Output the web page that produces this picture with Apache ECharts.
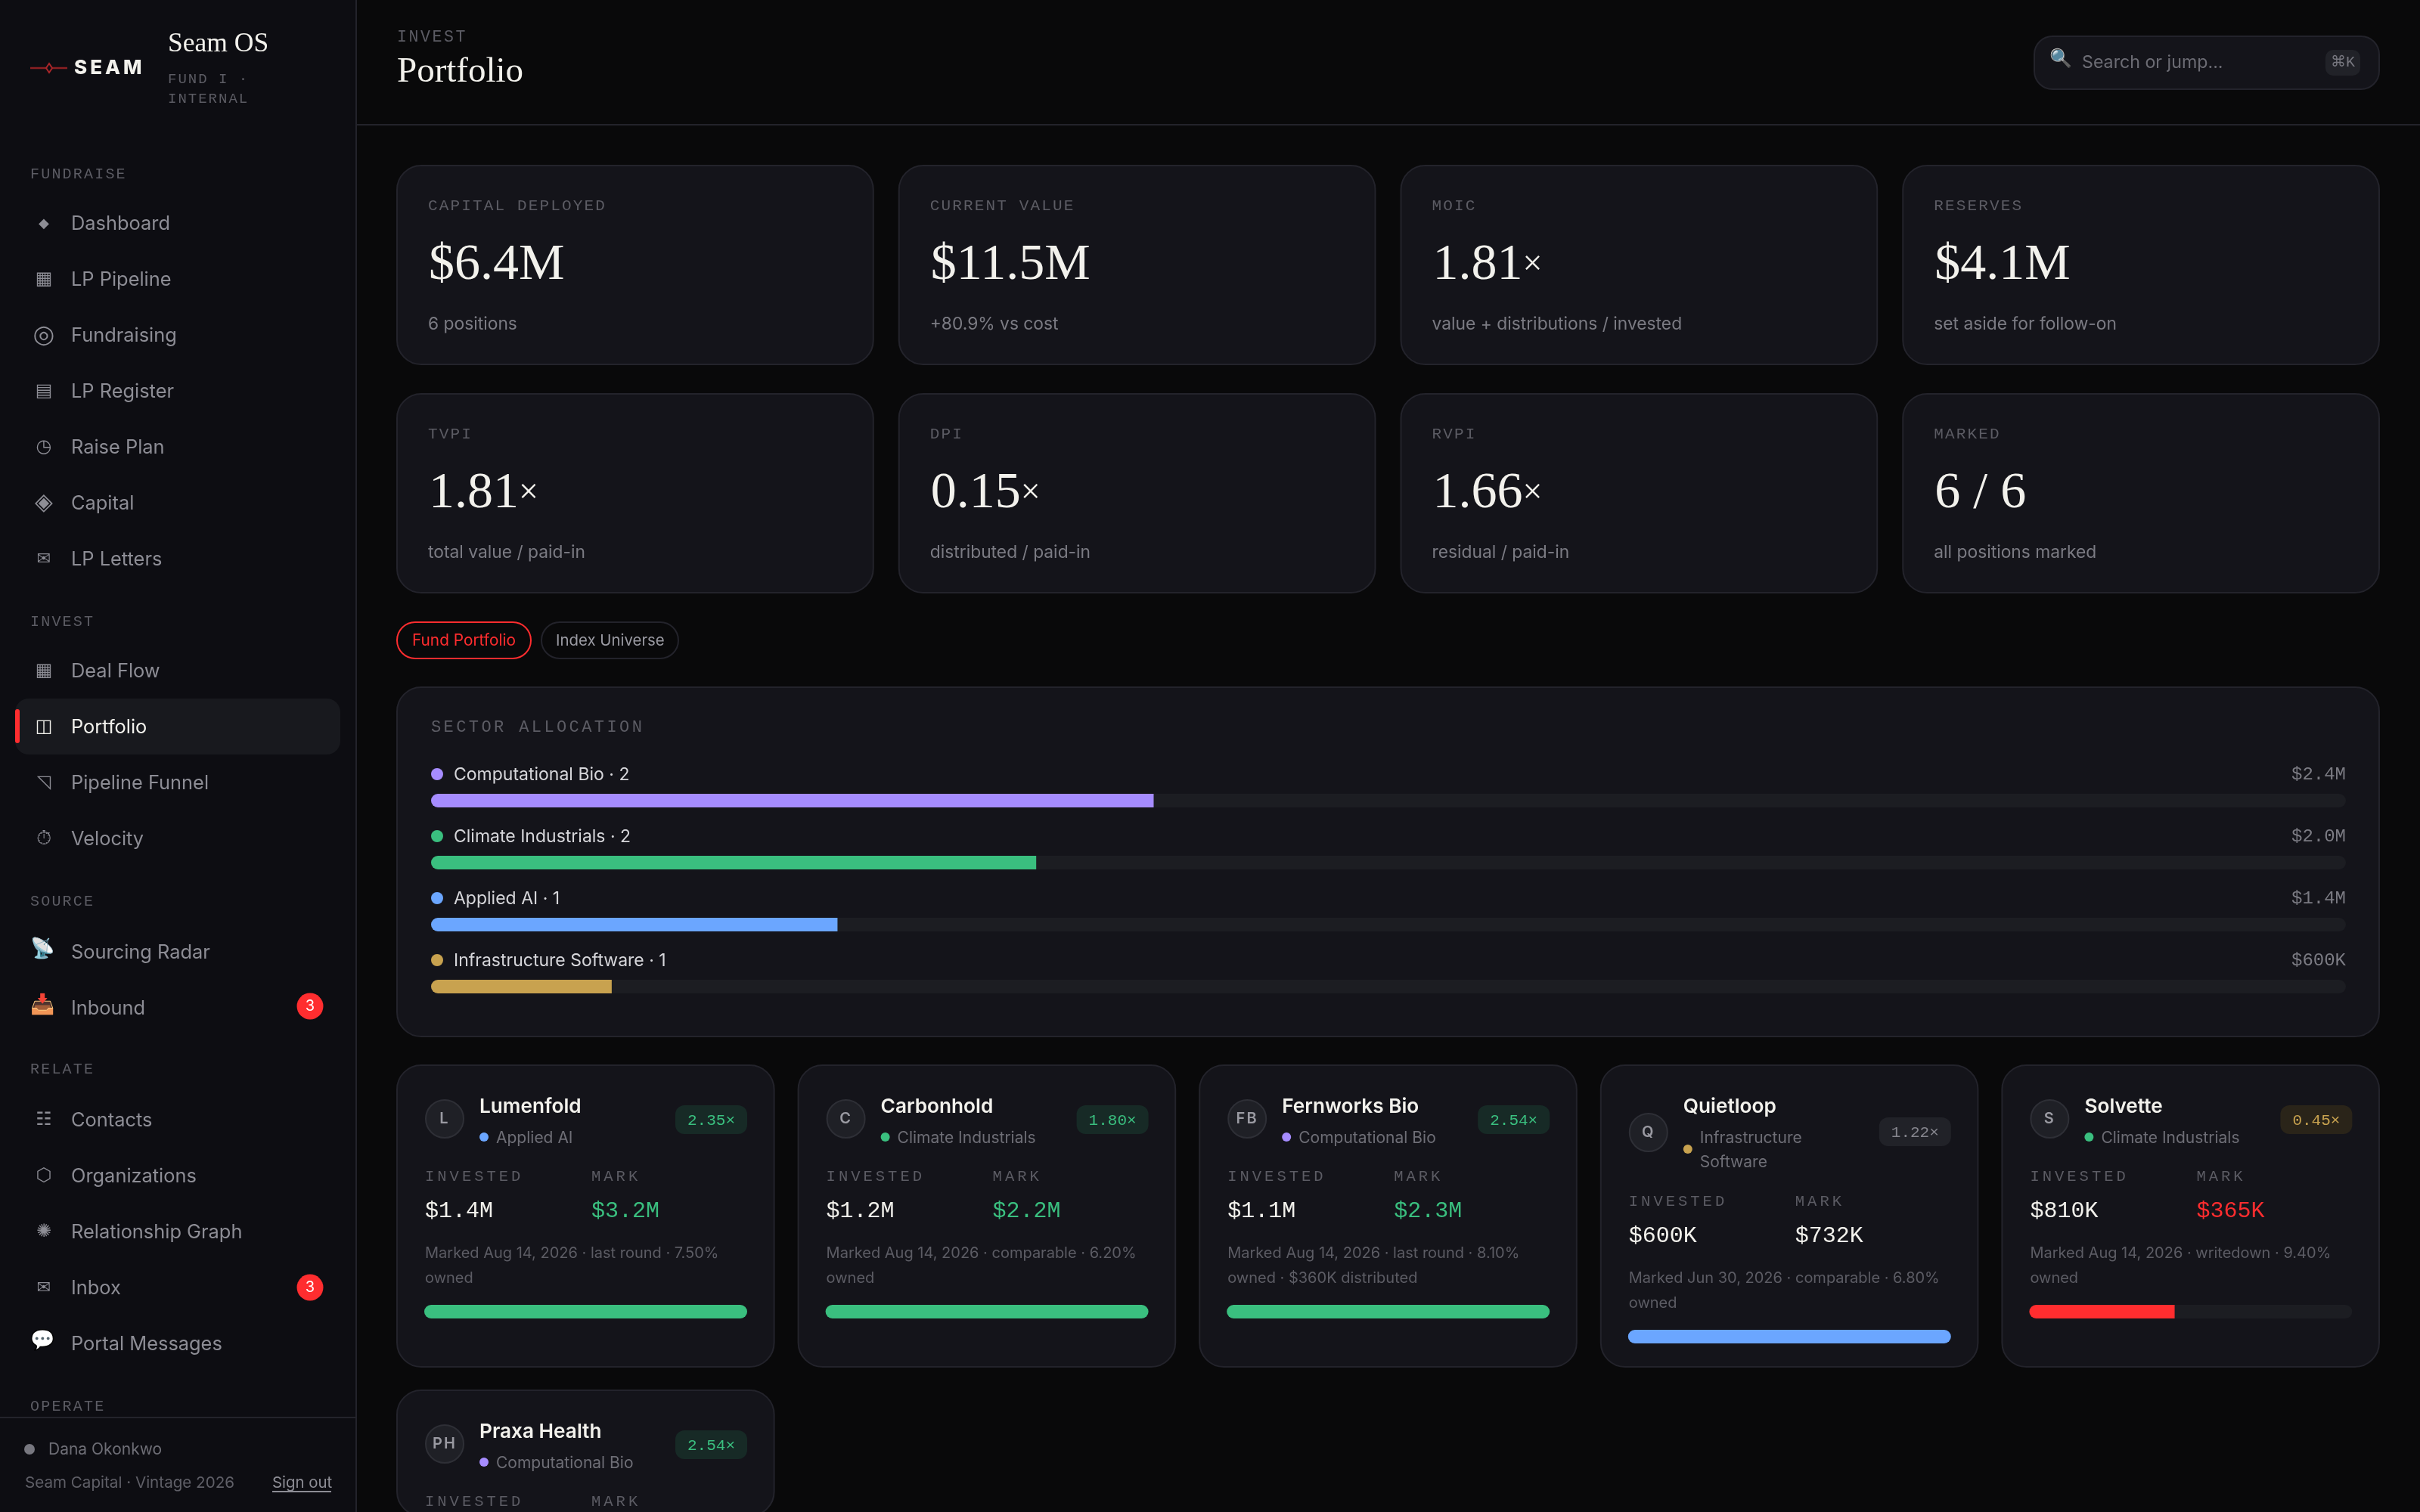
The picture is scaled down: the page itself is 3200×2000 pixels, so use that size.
<!DOCTYPE html>
<html>
<head>
<meta charset="utf-8">
<title>Seam OS - Portfolio</title>
<style>
    html, body { margin: 0; padding: 0; background: #09090a; }
    #chart { width: 3200px; height: 2000px; }
</style>
<script src="https://cdn.jsdelivr.net/npm/echarts@6/dist/echarts.min.js"></script>
</head>
<body>
<div id="chart"></div>
<script>
// sidebar content
var navSections = ['FUNDRAISE', 'INVEST', 'SOURCE', 'RELATE', 'OPERATE'];
var navFundraise = ['Dashboard', 'LP Pipeline', 'Fundraising', 'LP Register', 'Raise Plan', 'Capital', 'LP Letters'];
var navFundraiseIcons = ['◆', '▦', '◎', '▤', '◷', '◈', '✉'];
var navInvest = ['Deal Flow', 'Portfolio', 'Pipeline Funnel', 'Velocity'];
var navInvestIcons = ['▦', '◫', '◹', '⏱'];
var navSource = ['Sourcing Radar', 'Inbound'];
var navSourceIcons = ['📡', '📥'];
var navRelate = ['Contacts', 'Organizations', 'Relationship Graph', 'Inbox', 'Portal Messages'];
var navRelateIcons = ['☷', '⬡', '✺', '✉', '💬'];

// KPI tiles
var kpiLabels = ['CAPITAL DEPLOYED', 'CURRENT VALUE', 'MOIC', 'RESERVES', 'TVPI', 'DPI', 'RVPI', 'MARKED'];
var kpiValues = ['$6.4M', '$11.5M', '1.81×', '$4.1M', '1.81×', '0.15×', '1.66×', '6 / 6'];
var kpiNotes = ['6 positions', '+80.9% vs cost', 'value + distributions / invested', 'set aside for follow-on',
    'total value / paid-in', 'distributed / paid-in', 'residual / paid-in', 'all positions marked'];

// sector allocation, $M invested
var sectorNames = ['Computational Bio', 'Climate Industrials', 'Applied AI', 'Infrastructure Software'];
var sectorCounts = [2, 2, 1, 1];
var sectorValues = [2.4, 2.01, 1.35, 0.6];
var sectorLabels = ['$2.4M', '$2.0M', '$1.4M', '$600K'];

// positions
var companyNames = ['Lumenfold', 'Carbonhold', 'Fernworks Bio', 'Quietloop', 'Solvette', 'Praxa Health'];
var companyInitials = ['L', 'C', 'FB', 'Q', 'S', 'PH'];
var companySectors = [2, 1, 0, 3, 1, 0];
var companyInvested = ['$1.4M', '$1.2M', '$1.1M', '$600K', '$810K', '$1.3M'];
var companyMarks = ['$3.2M', '$2.2M', '$2.3M', '$732K', '$365K', '$3.3M'];
var companyMoic = [2.35, 1.80, 2.54, 1.22, 0.45, 2.54];
var companyNotes = [
    ['Marked Aug 14, 2026 · last round · 7.50%', 'owned'],
    ['Marked Aug 14, 2026 · comparable · 6.20%', 'owned'],
    ['Marked Aug 14, 2026 · last round · 8.10%', 'owned · $360K distributed'],
    ['Marked Jun 30, 2026 · comparable · 6.80%', 'owned'],
    ['Marked Aug 14, 2026 · writedown · 9.40%', 'owned'],
    ['Marked Aug 14, 2026 · last round · 8.10%', 'owned']
];

var SANS = 'Inter';
var SERIF = '"Liberation Serif"';
var MONO = '"Liberation Mono"';
var C = {
    page: '#09090a', side: '#0d0d12', card: '#14141a', line: '#23232b', track: '#1c1d22',
    ink: '#f2f1ec', body: '#d6d6da', nav: '#8d8d95', dim: '#7b7b83', faint: '#5c5c64',
    red: '#ff2d2f', green: '#3abf7f', blue: '#6ba6ff', purple: '#a68cff', gold: '#c8a24f'
};
var sectorColors = [C.purple, C.green, C.blue, C.gold];

// these glyphs come out at different sizes in the fallback fonts
var iconSizes = { '◆': 18, '◎': 33, '◈': 31, '⏱': 26, '✉': 22, '📡': 26, '📥': 26, '💬': 26 };

// zrender has no letter spacing, so it goes on the context per label size
var tracking = { 19: 2, 20: 2.2, 21: 2.15, 21.5: 2.6, 22: 3.4, 20.5: 4, 26: 4 };
var rawFillText = CanvasRenderingContext2D.prototype.fillText;
CanvasRenderingContext2D.prototype.fillText = function (text, x, y) {
    var upper = /^[A-Z ·]+$/.test(text);
    var size = parseFloat((/([\d.]+)px/.exec(this.font) || [])[1]);
    this.letterSpacing = (upper && tracking[size] || 0) + 'px';
    rawFillText.call(this, text, x, y);
    this.letterSpacing = '0px';
};

var elements = [];

function box(x, y, w, h, r, fill, stroke) {
    elements.push({
        type: 'rect',
        shape: { x: x, y: y, width: w, height: h, r: r },
        style: { fill: fill, stroke: stroke || null, lineWidth: stroke ? 2 : 0 }
    });
}

function dot(x, y, r, fill, stroke) {
    elements.push({
        type: 'circle',
        shape: { cx: x, cy: y, r: r },
        style: { fill: fill, stroke: stroke || null, lineWidth: stroke ? 2 : 0 }
    });
}

function rule(x1, y1, x2, y2, color, width) {
    elements.push({
        type: 'line',
        shape: { x1: x1, y1: y1, x2: x2, y2: y2 },
        style: { stroke: color, lineWidth: width || 2 }
    });
}

function label(x, y, text, size, family, fill, more) {
    var style = { text: text, x: x, y: y, fontSize: size, fontFamily: family, fill: fill, verticalAlign: 'middle' };
    for (var key in more) {
        style[key] = more[key];
    }
    elements.push({ type: 'text', style: style });
}

function drawSidebar() {
    box(0, 0, 470, 2000, 0, C.side);
    rule(471, 0, 471, 2000, C.line);

    // logo
    rule(40, 90, 89, 90, '#8a1f22', 2.5);
    elements.push({
        type: 'polygon',
        shape: { points: [[65, 84], [69, 90], [65, 96], [61, 90]] },
        style: { fill: C.side, stroke: '#a8262a', lineWidth: 2 }
    });
    label(98, 90, 'SEAM', 26, SANS, C.ink, { fontWeight: 800 });
    label(222, 59, 'Seam OS', 35.5, SERIF, C.ink);
    label(222, 105, 'FUND I ·', 19, MONO, C.faint);
    label(222, 131, 'INTERNAL', 19, MONO, C.faint);

    var groups = [
        { title: navSections[0], y: 231, first: 296, items: navFundraise, icons: navFundraiseIcons },
        { title: navSections[1], y: 823, first: 888, items: navInvest, icons: navInvestIcons },
        { title: navSections[2], y: 1193, first: 1260, items: navSource, icons: navSourceIcons },
        { title: navSections[3], y: 1415, first: 1482, items: navRelate, icons: navRelateIcons }
    ];

    // active row
    box(20, 924, 430, 74, 18, '#18191e');
    box(20, 938, 6, 45, 3, C.red);

    groups.forEach(function (group) {
        label(40, group.y, group.title, 20, MONO, C.faint);
        group.items.forEach(function (item, i) {
            var y = group.first + i * 74;
            var active = item === 'Portfolio';
            var icon = group.icons[i];
            var lift = icon.length > 1 ? 4 : 0;
            label(58 - lift / 2, y - lift, icon, iconSizes[icon] || 24, '"DejaVu Sans"', active ? C.ink : C.nav, { align: 'center' });
            label(94, y, item, 25.4, SANS, active ? C.ink : C.nav);
        });
    });

    [1331, 1703].forEach(function (y) {
        dot(410, y, 17.5, C.red);
        label(410, y, '3', 20, SANS, '#ffffff', { align: 'center' });
    });

    // footer
    label(40, 1861, navSections[4], 20, MONO, C.faint);
    box(0, 1875, 470, 125, 0, C.side);
    rule(0, 1875, 470, 1875, C.line);
    dot(39, 1917, 7, '#77777f');
    label(64, 1918, 'Dana Okonkwo', 21, SANS, '#6e6e76');
    label(33, 1962, 'Seam Capital · Vintage 2026', 20.6, SANS, '#5f5f67');
    label(360, 1962, 'Sign out', 20.4, SANS, C.nav);
    rule(360, 1973, 438, 1973, C.nav);
}

function drawHeader() {
    rule(472, 165, 3200, 165, C.line);
    label(525, 49, 'INVEST', 21.5, MONO, C.faint);
    label(525, 96, 'Portfolio', 47, SERIF, C.ink);

    box(2690, 48, 456, 70, 24, C.card, C.line);
    label(2725, 79, '🔍', 24, '"DejaVu Sans"', C.nav, { align: 'center' });
    label(2753, 83, 'Search or jump...', 23.2, SANS, '#6c6c74');
    box(3075, 66, 46, 34, 10, '#212228');
    label(3098, 83, '⌘K', 20, MONO, '#77777f', { align: 'center' });
}

function drawKpis() {
    kpiLabels.forEach(function (name, i) {
        var x = 524 + (i % 4) * 663.75;
        var y = 218 + Math.floor(i / 4) * 302;
        box(x + 1, y + 1, 629.75, 263, 32, C.card, C.line);
        label(x + 42, y + 54, name, 21, MONO, C.faint);

        var value = kpiValues[i];
        if (value.slice(-1) === '×') {
            label(x + 43, y + 133, '{v|' + value.slice(0, -1) + '}{x|×}', 68, SERIF, C.ink, {
                rich: {
                    v: { fontSize: 68, fontFamily: SERIF, fill: C.ink },
                    x: { fontSize: 46, fontFamily: SERIF, fill: C.ink }
                }
            });
        }
        else {
            label(x + 43, y + 133, value, 68, SERIF, C.ink);
        }
        label(x + 42, y + 211, kpiNotes[i], 22.8, SANS, C.dim);
    });
}

function drawPanel() {
    box(525, 823, 177, 48, 24, 'transparent', C.red);
    label(545, 848, 'Fund Portfolio', 20.8, SANS, C.red);
    box(716, 823, 181, 48, 24, 'transparent', C.line);
    label(735, 848, 'Index Universe', 20.4, SANS, '#9a9aa2');

    box(525, 909, 2621, 462, 32, C.card, C.line);
    label(570, 962, 'SECTOR ALLOCATION', 22, MONO, C.faint);

    sectorNames.forEach(function (name, i) {
        var y = 1024 + i * 82;
        dot(578, y, 8, sectorColors[i]);
        label(600, y + 1, name + ' · ' + sectorCounts[i], 23, SANS, C.body);
        label(3102, y + 1, sectorLabels[i], 24, MONO, C.dim, { align: 'right' });
    });
}

function moicTier(moic) {
    if (moic >= 1.5) {
        return { bar: C.green, mark: C.green, pill: '#172a26', pillText: C.green };
    }
    if (moic >= 1) {
        return { bar: C.blue, mark: C.ink, pill: '#212228', pillText: '#85858d' };
    }
    return { bar: C.red, mark: C.red, pill: '#2a2419', pillText: C.gold };
}

// returns the top of the progress bar so the series can sit on it
function drawCompany(i) {
    var x = 524 + (i % 5) * 530.6;
    var y = 1408 + Math.floor(i / 5) * 430;
    var tier = moicTier(companyMoic[i]);
    var sectorName = sectorNames[companySectors[i]];
    var wrapped = sectorName === 'Infrastructure Software';
    var shift = wrapped ? 33 : 0;
    var right = x + 464;
    var avatarY = y + 72 + (wrapped ? 18 : 0);

    box(x + 1, y + 1, 498.6, Math.min(399, 2004 - y), 32, C.card, C.line);

    dot(x + 64, avatarY, 25, '#1f2026', '#2e2f36');
    label(x + 64, avatarY, companyInitials[i], 20, SANS, '#9a9aa2', { align: 'center', fontWeight: 600 });

    label(x + 110, y + 56, companyNames[i], 26.2, SANS, C.ink, { fontWeight: 600 });
    if (wrapped) {
        dot(x + 116, y + 112, 6, sectorColors[companySectors[i]]);
        label(x + 132, y + 98, 'Infrastructure', 21, SANS, '#6e6e76');
        label(x + 132, y + 130, 'Software', 21, SANS, '#6e6e76');
    }
    else {
        dot(x + 116, y + 96, 6, sectorColors[companySectors[i]]);
        label(x + 132, y + 98, sectorName, 21, SANS, '#6e6e76');
    }

    var pillY = y + 54 + (wrapped ? 16 : 0);
    box(right - 95, pillY, 95, 38, 12, tier.pill);
    label(right - 47.5, pillY + 20, companyMoic[i].toFixed(2) + '×', 21, MONO, tier.pillText, { align: 'center' });

    label(x + 38, y + 149 + shift, 'INVESTED', 20.5, MONO, C.faint);
    label(x + 258, y + 149 + shift, 'MARK', 20.5, MONO, C.faint);

    if (y + 192 + shift < 2000) {
        label(x + 38, y + 194 + shift, companyInvested[i], 30, MONO, C.ink);
        label(x + 258, y + 194 + shift, companyMarks[i], 30, MONO, tier.mark);
        label(x + 38, y + 250 + shift, companyNotes[i][0], 20, SANS, C.faint);
        label(x + 38, y + 283 + shift, companyNotes[i][1], 20, SANS, C.faint);
    }
    return { left: x + 37, top: y + 318 + shift };
}

drawSidebar();
drawHeader();
drawKpis();
drawPanel();

// sector bars share one grid, one band per sector
var grids = [{ left: 570, top: 1018, width: 2532, height: 328 }];
var xAxes = [{ type: 'value', gridIndex: 0, min: 0, max: 6.36, show: false }];
var yAxes = [{ type: 'category', gridIndex: 0, inverse: true, data: sectorNames, show: false }];
var series = [{
    type: 'bar',
    xAxisIndex: 0,
    yAxisIndex: 0,
    barWidth: 18,
    silent: true,
    showBackground: true,
    backgroundStyle: { color: C.track, borderRadius: 9 },
    data: sectorValues.map(function (value, i) {
        return { value: value, itemStyle: { color: sectorColors[i], borderRadius: [9, 0, 0, 9] } };
    })
}];

companyNames.forEach(function (name, i) {
    var place = drawCompany(i);
    if (place.top > 2000) {
        return;
    }
    var index = grids.length;
    var filled = Math.min(companyMoic[i], 1);
    grids.push({ left: place.left, top: place.top, width: 427, height: 18 });
    xAxes.push({ type: 'value', gridIndex: index, min: 0, max: 1, show: false });
    yAxes.push({ type: 'category', gridIndex: index, data: [name], show: false });
    series.push({
        type: 'bar',
        xAxisIndex: index,
        yAxisIndex: index,
        barWidth: 18,
        silent: true,
        showBackground: true,
        backgroundStyle: { color: C.track, borderRadius: 9 },
        itemStyle: {
            color: moicTier(companyMoic[i]).bar,
            borderRadius: filled < 1 ? [9, 0, 0, 9] : 9
        },
        data: [filled]
    });
});

var chart = echarts.init(document.getElementById('chart'));
chart.setOption({
    backgroundColor: C.page,
    animation: false,
    tooltip: { show: false },
    grid: grids,
    xAxis: xAxes,
    yAxis: yAxes,
    series: series,
    graphic: { elements: elements }
});
</script>
</body>
</html>
